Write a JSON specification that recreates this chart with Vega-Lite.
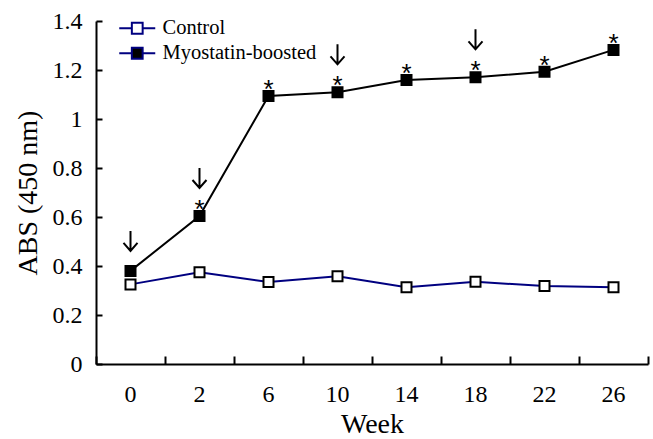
{
  "$schema": "https://vega.github.io/schema/vega-lite/v6.json",
  "width": 552,
  "height": 343,
  "autosize": {"type": "none"},
  "padding": {"left": 96, "top": 21, "right": 5, "bottom": 75},
  "background": "white",
  "config": {
    "view": {"stroke": null},
    "font": "Liberation Serif",
    "legend": {"labelFont": "Liberation Serif", "labelFontSize": 20.5, "labelColor": "black"},
    "axis": {
      "grid": false,
      "domainColor": "black",
      "domainWidth": 2,
      "tickColor": "black",
      "tickWidth": 2,
      "labelColor": "black",
      "titleColor": "black",
      "labelFont": "Liberation Serif",
      "titleFont": "Liberation Serif",
      "labelFontSize": 24,
      "titleFontSize": 28,
      "titleFontWeight": "normal"
    }
  },
  "data": {
    "values": [
      {"week": "0", "group": "Control", "abs": 0.325, "sig": false, "arrow": false},
      {"week": "2", "group": "Control", "abs": 0.374, "sig": false, "arrow": false},
      {"week": "6", "group": "Control", "abs": 0.335, "sig": false, "arrow": false},
      {"week": "10", "group": "Control", "abs": 0.358, "sig": false, "arrow": false},
      {"week": "14", "group": "Control", "abs": 0.313, "sig": false, "arrow": false},
      {"week": "18", "group": "Control", "abs": 0.336, "sig": false, "arrow": false},
      {"week": "22", "group": "Control", "abs": 0.318, "sig": false, "arrow": false},
      {"week": "26", "group": "Control", "abs": 0.313, "sig": false, "arrow": false},
      {"week": "0", "group": "Myostatin-boosted", "abs": 0.38, "sig": false, "arrow": true},
      {"week": "2", "group": "Myostatin-boosted", "abs": 0.604, "sig": true, "arrow": true},
      {"week": "6", "group": "Myostatin-boosted", "abs": 1.094, "sig": true, "arrow": false},
      {"week": "10", "group": "Myostatin-boosted", "abs": 1.109, "sig": true, "arrow": true},
      {"week": "14", "group": "Myostatin-boosted", "abs": 1.159, "sig": true, "arrow": false},
      {"week": "18", "group": "Myostatin-boosted", "abs": 1.17, "sig": true, "arrow": true},
      {"week": "22", "group": "Myostatin-boosted", "abs": 1.193, "sig": true, "arrow": false},
      {"week": "26", "group": "Myostatin-boosted", "abs": 1.282, "sig": true, "arrow": false}
    ]
  },
  "resolve": {"axis": {"x": "independent", "y": "independent"}},
  "layer": [
    {
      "encoding": {
        "x": {
          "field": "week",
          "type": "ordinal",
          "sort": ["0", "2", "6", "10", "14", "18", "22", "26"],
          "scale": {"type": "band", "paddingInner": 0, "paddingOuter": 0},
          "axis": {
            "orient": "bottom",
            "title": "Week",
            "labelAngle": 0,
            "ticks": false,
            "labelPadding": 18,
            "titlePadding": 4
          }
        },
        "y": {
          "field": "abs",
          "type": "quantitative",
          "scale": {"domain": [0, 1.4], "nice": false},
          "axis": {
            "orient": "left",
            "title": "ABS (450 nm)",
            "values": [0, 0.2, 0.4, 0.6, 0.8, 1, 1.2, 1.4],
            "format": ".2~f",
            "ticks": false,
            "labelPadding": 14,
            "titlePadding": 10
          }
        }
      },
      "layer": [
        {
          "transform": [{"filter": "datum.group === 'Control'"}],
          "mark": {"type": "line", "strokeWidth": 2, "color": "#000080"}
        },
        {
          "transform": [{"filter": "datum.group === 'Myostatin-boosted'"}],
          "mark": {"type": "line", "strokeWidth": 2, "color": "#000000"}
        },
        {
          "transform": [{"filter": "datum.sig"}],
          "mark": {"type": "text", "text": "*", "font": "Liberation Sans", "fontSize": 26, "baseline": "alphabetic", "dy": 2, "color": "black"}
        },
        {
          "transform": [{"filter": "datum.arrow && datum.sig"}],
          "mark": {"type": "point", "shape": "M0,-1L0,1M-0.7,0.2L0,1L0.7,0.2", "size": 400, "filled": false, "stroke": "black", "strokeWidth": 2, "opacity": 1, "yOffset": -38}
        },
        {
          "transform": [{"filter": "datum.arrow && !datum.sig"}],
          "mark": {"type": "point", "shape": "M0,-1L0,1M-0.7,0.2L0,1L0.7,0.2", "size": 400, "filled": false, "stroke": "black", "strokeWidth": 2, "opacity": 1, "yOffset": -30}
        }
      ]
    },
    {
      "mark": {"type": "point", "shape": "square", "filled": true, "size": 100, "stroke": "black", "strokeWidth": 2, "opacity": 1},
      "encoding": {
        "x": {
          "field": "week",
          "type": "ordinal",
          "sort": ["0", "2", "6", "10", "14", "18", "22", "26"],
          "scale": {"type": "band", "paddingInner": 0, "paddingOuter": 0},
          "axis": {
            "orient": "bottom",
            "title": null,
            "labels": false,
            "domain": false,
            "ticks": true,
            "tickBand": "extent",
            "tickSize": 8,
            "offset": -8
          }
        },
        "y": {
          "field": "abs",
          "type": "quantitative",
          "scale": {"domain": [0, 1.4], "nice": false},
          "axis": {
            "orient": "left",
            "title": null,
            "labels": false,
            "domain": false,
            "ticks": true,
            "values": [0, 0.2, 0.4, 0.6, 0.8, 1, 1.2, 1.4],
            "tickSize": 6,
            "offset": -6
          }
        },
        "fill": {
          "field": "group",
          "type": "nominal",
          "scale": {"domain": ["Control", "Myostatin-boosted"], "range": ["white", "black"]},
          "legend": {
            "title": null,
            "orient": "none",
            "legendX": 31,
            "legendY": -3,
            "padding": 0,
            "symbolType": "M-3,0H-0.9M-0.9,-0.9H0.9V0.9H-0.9ZM0.9,0H3",
            "symbolSize": 144,
            "symbolStrokeColor": "#000080",
            "symbolStrokeWidth": 2,
            "symbolOpacity": 1,
            "rowPadding": 4,
            "labelOffset": 15,
            "labelFont": "Liberation Serif",
            "labelFontSize": 20.5,
            "labelColor": "black",
            "labelLimit": 300,
            "encode": {
              "labels": {
                "update": {
                  "font": {"value": "Liberation Serif"},
                  "fontSize": {"value": 20.5}
                }
              }
            }
          }
        }
      }
    }
  ]
}
